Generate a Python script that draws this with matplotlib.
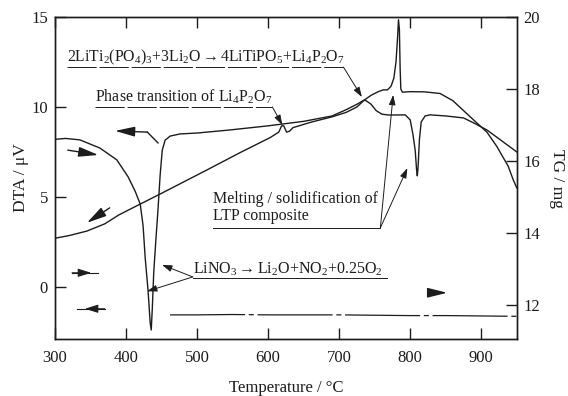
import matplotlib
matplotlib.use("Agg")
import matplotlib.pyplot as plt

plt.rcParams["font.family"] = ["Liberation Serif", "DejaVu Serif"]
plt.rcParams["mathtext.fontset"] = "custom"
plt.rcParams["mathtext.rm"] = "Liberation Serif"
plt.rcParams["mathtext.it"] = "Liberation Serif:italic"

# DTA on heating (left axis, uV)
heat_T = [300, 315, 335, 363, 387, 403, 413, 420, 424, 427, 431, 434, 435.5,
          437, 439, 442, 445, 448, 451, 455, 462, 476, 500, 546, 600, 650,
          690, 710, 725, 736, 745, 752, 760, 770, 793, 800, 804, 807, 809,
          810, 811, 813, 815.5, 821, 828, 850, 875, 890, 908, 927, 950]
heat_V = [8.2, 8.25, 8.17, 7.72, 7.06, 6.11, 5.3, 4.6, 3.4, 1.6, -0.2, -2.0, -2.4,
          -1.2, 0.8, 2.6, 4.3, 6.2, 7.6, 8.15, 8.38, 8.5, 8.55, 8.72, 8.95, 9.2,
          9.5, 9.85, 10.15, 10.4, 10.15, 9.8, 9.6, 9.55, 9.56, 9.28, 8.44, 7.6, 6.5,
          6.17, 6.6, 8.2, 9.17, 9.5, 9.56, 9.5, 9.39, 9.1, 8.72, 8.17, 7.5]

# DTA on cooling (left axis, uV)
cool_T = [300, 320, 345, 370, 390, 420, 450, 514, 560, 603, 615, 619, 622,
          626, 630, 635, 660, 690, 710, 725, 736, 745, 755, 762, 768, 773,
          777, 780, 782, 783.5, 784.8, 785.8, 786.8, 789, 800, 820, 842, 860,
          875, 890, 908, 922, 938, 945, 950]
cool_V = [2.7, 2.85, 3.1, 3.5, 4.0, 4.6, 5.2, 6.5, 7.45, 8.3, 8.6, 8.95, 8.95,
          8.6, 8.65, 8.85, 9.15, 9.45, 9.7, 10.0, 10.4, 10.65, 10.85, 10.95, 10.95, 11.15,
          11.6, 12.5, 13.7, 14.85, 14.3, 12.2, 11.0, 10.82, 10.85, 10.84, 10.75, 10.35,
          9.8, 9.25, 8.6, 7.8, 6.7, 5.95, 5.5]

# TG (right axis, mg)
tg_T = [462, 500, 550, 600, 650, 700, 750, 800, 850, 900, 950]
tg_m = [11.72, 11.72, 11.73, 11.72, 11.72, 11.72, 11.71, 11.70, 11.70, 11.69, 11.68]

x_ticks = [300, 400, 500, 600, 700, 800, 900]
dta_ticks = [0, 5, 10, 15]
tg_ticks = [12, 14, 16, 18, 20]

ink = "#1c1c1c"

fig = plt.figure(figsize=(5.68, 3.96), dpi=100)
ax = fig.add_axes([0.0968, 0.144, 0.813, 0.813])
ax2 = ax.twinx()

ax.plot(heat_T, heat_V, color=ink, lw=1.0)
ax.plot(cool_T, cool_V, color=ink, lw=1.0)
ax2.plot(tg_T, tg_m, color=ink, lw=0.9, ls=(0, (60, 3, 4, 3)))

ax.set_xlim(300, 950)
ax.set_ylim(-2.9, 15)
ax2.set_ylim(11.05, 20)
ax.set_xticks(x_ticks)
ax.set_yticks(dta_ticks)
ax2.set_yticks(tg_ticks)

for a in (ax, ax2):
    for s in a.spines.values():
        s.set_color(ink)
        s.set_linewidth(1.0)
ax.tick_params(axis="x", direction="in", length=8, width=1.0, top=True,
               labelsize=12, pad=8, colors=ink)
ax.tick_params(axis="y", direction="in", length=8, width=1.0, labelsize=12,
               pad=5, colors=ink)
ax2.tick_params(axis="y", direction="in", length=8, width=1.0, labelsize=12,
                pad=5, colors=ink)

ax.set_xlabel("Temperature / °C", fontsize=12, labelpad=10, color=ink)
ax.set_ylabel("DTA / μV", fontsize=12.5, labelpad=2, color=ink)
ax2.set_ylabel("TG / mg", fontsize=12.5, rotation=270, labelpad=18, color=ink)

fs = 11.5
head = dict(arrowstyle="-|>,head_length=0.6,head_width=0.2", color=ink, lw=0.7,
            shrinkA=0, shrinkB=0)
uline = (0, (30, 3))

# reaction of the LTP composite
ax.text(317, 12.78,
        r"$\mathrm{2LiTi_2(PO_4)_3{+}3Li_2O \rightarrow 4LiTiPO_5{+}Li_4P_2O_7}$",
        fontsize=11.3, va="center", ha="left", color=ink)
ax.plot([317, 706], [12.22, 12.22], color=ink, lw=0.7, ls=uline)
ax.annotate("", xy=(732, 10.55), xytext=(706, 12.22), arrowprops=head)

# phase transition
ax.text(356, 10.55, r"Phase transition of $\mathrm{Li_4P_2O_7}$",
        fontsize=fs, va="center", ha="left", color=ink)
ax.plot([356, 606], [10.0, 10.0], color=ink, lw=0.7, ls=uline)
ax.annotate("", xy=(620, 9.0), xytext=(606, 10.0), arrowprops=head)

# melting / solidification
ax.text(522, 4.89, "Melting / solidification of", fontsize=fs,
        va="center", ha="left", color=ink)
ax.text(522, 3.94, "LTP composite", fontsize=fs, va="center", ha="left",
        color=ink)
ax.plot([522, 758], [3.28, 3.28], color=ink, lw=0.7)
ax.annotate("", xy=(776, 10.67), xytext=(758, 3.28), arrowprops=head)
ax.annotate("", xy=(796, 6.6), xytext=(758, 3.28), arrowprops=head)

# nitrate decomposition
ax.text(494, 1.0, r"$\mathrm{LiNO_3 \rightarrow Li_2O{+}NO_2{+}0.25O_2}$",
        fontsize=fs, va="center", ha="left", color=ink)
ax.plot([494, 767], [0.5, 0.5], color=ink, lw=0.7)
ax.annotate("", xy=(450.7, 1.22), xytext=(494, 0.55), arrowprops=head)
ax.annotate("", xy=(429.6, -0.25), xytext=(494, 0.55), arrowprops=head)

# axis pointers
big = dict(arrowstyle="-|>,head_length=1.2,head_width=0.3", color=ink, lw=1.0,
           shrinkA=0, shrinkB=0)
ax.plot([445, 430], [8.0, 8.6], color=ink, lw=1.0)
ax.annotate("", xy=(384.5, 8.67), xytext=(430, 8.6), arrowprops=big)
ax.annotate("", xy=(852, -0.33), xytext=(829, -0.33), arrowprops=big)

# heating / cooling direction
ax.annotate("", xy=(361, 7.33), xytext=(318, 7.6), arrowprops=big)
ax.annotate("", xy=(345, 3.56), xytext=(377, 4.39), arrowprops=big)

small = dict(arrowstyle="-|>,head_length=0.8,head_width=0.25", color=ink, lw=0.8,
             shrinkA=0, shrinkB=0)
ax.plot([324, 361], [0.78, 0.78], color=ink, lw=0.8)
ax.annotate("", xy=(351, 0.78), xytext=(324, 0.78), arrowprops=small)
ax.plot([331, 370], [-1.22, -1.22], color=ink, lw=0.8)
ax.annotate("", xy=(342, -1.22), xytext=(370, -1.22), arrowprops=small)

fig.savefig("out.png", dpi=100)
